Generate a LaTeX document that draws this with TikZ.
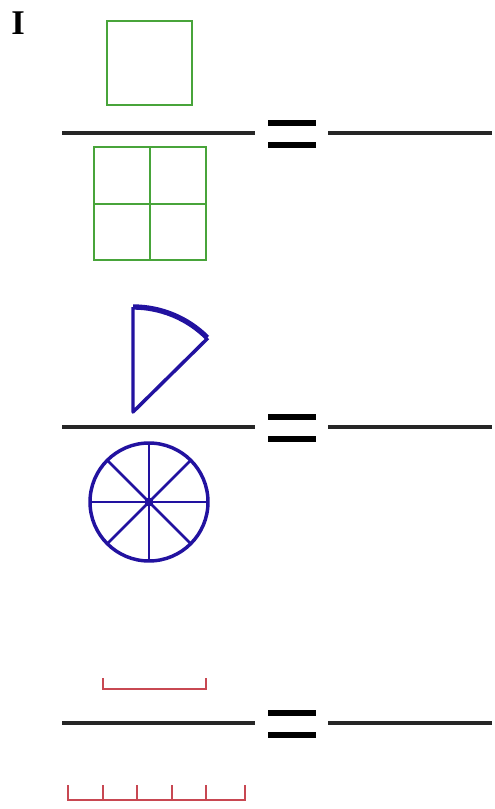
\documentclass[tikz,border=0pt]{standalone}
\usepackage{fontspec}
\setmainfont{Liberation Serif}
\definecolor{gr}{RGB}{72,164,58}
\definecolor{bl}{RGB}{34,18,160}
\definecolor{rd}{RGB}{200,72,82}
\begin{document}
\begin{tikzpicture}[x=0.75pt,y=-0.75pt,
  fracline/.style={line width=2.6pt,black!85},
  eqbar/.style={line width=4.4pt,black},
  greenline/.style={gr,line width=2.1pt},
  greenthin/.style={gr,line width=1.6pt},
  blueline/.style={bl,line width=2.6pt},
  redline/.style={rd,line width=1.9pt}]
\useasboundingbox (0,0) rectangle (494,809);
\fill[white] (0,0) rectangle (494,809);
% label
\node[font=\fontsize{26}{26}\selectfont\bfseries,inner sep=0pt] (lbl) at (18,23) {I};
% fraction frames
\foreach \y in {133,427,723}{
  \draw[fracline] (62,\y) -- (255,\y);
  \draw[fracline] (328,\y) -- (492,\y);
  \draw[eqbar] (268,\y-10) -- (316,\y-10);
  \draw[eqbar] (268,\y+12) -- (316,\y+12);
}
% green square
\draw[greenline] (107,21) rectangle (192,105);
% green grid
\draw[greenthin] (94,147) rectangle (206,260);
\draw[greenthin] (94,204) -- (206,204);
\draw[greenline] (150,147) -- (150,260);
% blue sector
\draw[blueline,line join=round] (208,338) -- (133,412) -- (133,307);
\draw[bl,line width=4pt] (133,307) arc[start angle=-90,end angle=-45,radius=105];
% blue wheel
\draw[blueline] (149,502) circle[radius=59];
\foreach \a in {0,45,...,315}{
  \draw[bl,line width=2.1pt] (149,502) -- ++(\a:59);
}
\fill[bl] (149,502) circle[radius=4.5];
% red bracket
\draw[redline] (103,678) -- (103,689) -- (206,689) -- (206,678);
% red ruler
\draw[redline] (68,785) -- (68,800) -- (245,800) -- (245,785);
\foreach \x in {103,137,172,206}{
  \draw[redline] (\x,785) -- (\x,800);
}
\end{tikzpicture}
\end{document}
